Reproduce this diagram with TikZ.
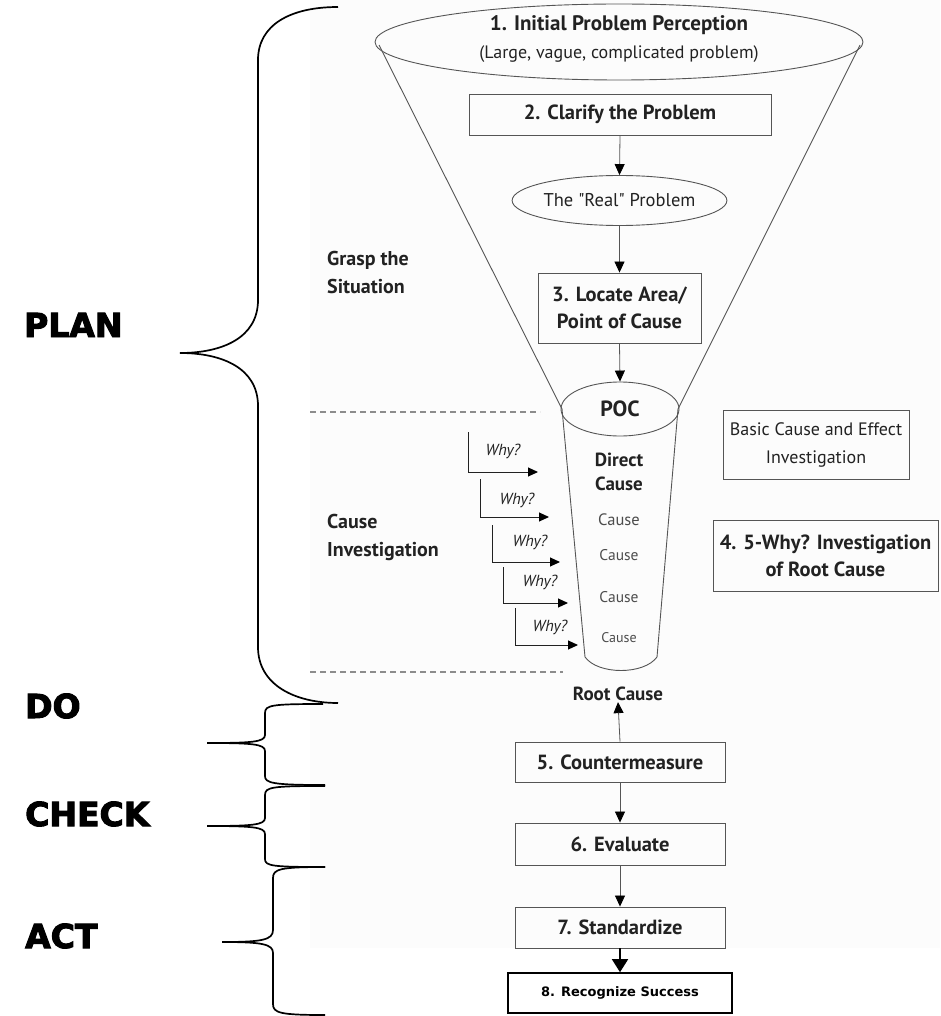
\documentclass[tikz,border=0pt]{standalone}
\usepackage{fontspec}
\setmainfont{PT Sans}[Ligatures=TeXOff]
\newfontfamily\phasefont[BoldFeatures={FakeBold=3}]{DejaVu Sans}
\newfontfamily\plainboxfont{DejaVu Sans}
\usetikzlibrary{arrows.meta,shapes.geometric}

\definecolor{ink}{HTML}{222222}
\definecolor{rule}{HTML}{555555}
\definecolor{paper}{HTML}{FCFCFC}

\tikzset{
  stepbox/.style={draw=rule, line width=0.9pt, rectangle, inner sep=2pt,
    text=ink, align=center, font=\bfseries\fontsize{20.5}{27}\selectfont},
  notebox/.style={stepbox, font=\fontsize{18}{28}\selectfont},
  oval/.style={draw=rule, line width=0.9pt, ellipse, inner sep=0pt, text=ink, align=center},
  flow/.style={draw=rule, line width=0.8pt, -{Triangle[length=11pt,width=10pt,color=black]}},
  bigflow/.style={draw=black, line width=1.6pt, -{Triangle[length=13pt,width=16pt]}},
  whyflow/.style={draw=ink, line width=1pt, -{Triangle[length=10pt,width=9pt,color=black]}},
  whytext/.style={text=ink, font=\itshape\fontsize{16}{16}\selectfont, inner sep=0pt},
  sidetext/.style={text=ink, align=left, anchor=north west, inner sep=0pt,
    font=\bfseries\fontsize{20}{28}\selectfont},
  causetext/.style={text=black!70, inner sep=0pt},
  phase/.style={anchor=west, inner sep=0pt, text height=24pt, text depth=0pt,
    font=\phasefont\bfseries\fontsize{33}{33}\selectfont},
  bracepen/.style={draw=black, line width=1.7pt},
  divider/.style={draw=black!45, line width=2pt, dash pattern=on 6pt off 4pt},
  funnelpen/.style={draw=rule, line width=0.9pt}
}

\begin{document}
\begin{tikzpicture}[x=1pt,y=-1pt]
\useasboundingbox (0,0) rectangle (940,1016);
\fill[paper] (310,0) rectangle (940,948);

% ---- braces of the PDCA phases ----
\draw[bracepen] (338,7) .. controls (290,7) and (258,25) .. (258,60) -- (258,300)
  .. controls (258,338) and (222,353) .. (180,353)
  .. controls (222,353) and (258,368) .. (258,406) -- (258,647)
  .. controls (258,685) and (295,703) .. (338,703);
\draw[bracepen] (323,704) .. controls (272,704) and (265,705) .. (265,713) -- (265,735)
  .. controls (265,742) and (252,743) .. (207,743)
  .. controls (252,743) and (265,744) .. (265,751) -- (265,776)
  .. controls (265,783) and (272,785) .. (325,785);
\draw[bracepen] (325,786) .. controls (272,786) and (265,787) .. (265,795) -- (265,818)
  .. controls (265,825) and (252,826) .. (207,826)
  .. controls (252,826) and (265,827) .. (265,834) -- (265,859)
  .. controls (265,866) and (272,867) .. (325,867);
\draw[bracepen] (325,867) .. controls (280,867) and (273,869) .. (273,878) -- (273,930)
  .. controls (273,940) and (262,942) .. (222,942)
  .. controls (262,942) and (273,944) .. (273,953) -- (273,1004)
  .. controls (273,1013) and (280,1015) .. (325,1015);

\node[phase] (plan) at (24,325) {PLAN};
\node[phase] (do) at (25,706) {DO};
\node[phase] (check) at (25,814) {CHECK};
\node[phase] (act) at (25,936) {ACT};

% ---- section labels and dividers ----
\node[sidetext] (grasp) at (327,251) {Grasp the\\Situation};
\node[sidetext] (causeinv) at (327,514) {Cause\\Investigation};
\draw[divider] (310,412) -- (540,412);
\draw[divider] (310,672) -- (563,672);

% ---- funnel ----
\draw[funnelpen] (379,45) -- (562,409);
\draw[funnelpen] (860,45) -- (678,409);
\draw[funnelpen] (562,409) -- (585,657) .. controls (598,675) and (644,675) .. (657,657) -- (678,409);

\node[oval, minimum width=488pt, minimum height=76pt] (perc) at (619,42) {};
\node[text=ink, font=\bfseries\fontsize{21}{21}\selectfont] (perct) at (619,25) {1. Initial Problem Perception};
\node[text=ink, font=\fontsize{18}{18}\selectfont] (percs) at (619,54) {(Large, vague, complicated problem)};

\node[stepbox, minimum width=302pt, minimum height=41pt] (clarify) at (620,114.5) {2. Clarify the Problem};
\node[oval, minimum width=209pt, minimum height=50pt, font=\fontsize{18.5}{18.5}\selectfont] (real) at (619.5,200.5) {The "Real" Problem};
\node[stepbox, minimum width=163pt, minimum height=70pt] (locate) at (619.5,308) {3. Locate Area/\\Point of Cause};
\node[oval, minimum width=118pt, minimum height=54pt, font=\bfseries\fontsize{22}{22}\selectfont] (poc) at (620,409) {POC};

\draw[flow] (clarify.south) -- (real.north);
\draw[flow] (real.south) -- (locate.north);
\draw[flow] (locate.south) -- (poc.north);

% ---- causes inside the cup ----
\node[text=ink, align=center, inner sep=0pt, font=\bfseries\fontsize{19}{24}\selectfont] (direct) at (619,472) {Direct\\Cause};
\node[causetext, font=\fontsize{16.5}{16.5}\selectfont] (c1) at (619,520) {Cause};
\node[causetext, font=\fontsize{15.5}{15.5}\selectfont] (c2) at (619,555) {Cause};
\node[causetext, font=\fontsize{15.5}{15.5}\selectfont] (c3) at (619,597) {Cause};
\node[causetext, font=\fontsize{14}{14}\selectfont] (c4) at (619,638) {Cause};

% ---- why arrows ----
\coordinate (w1s) at (468,432); \coordinate (w1e) at (538,472);
\coordinate (w2s) at (480,479); \coordinate (w2e) at (549,517);
\coordinate (w3s) at (492,525); \coordinate (w3e) at (560,562);
\coordinate (w4s) at (503,567); \coordinate (w4e) at (568,603);
\coordinate (w5s) at (515,608); \coordinate (w5e) at (578,645);
\draw[whyflow] (w1s) |- (w1e);
\draw[whyflow] (w2s) |- (w2e);
\draw[whyflow] (w3s) |- (w3e);
\draw[whyflow] (w4s) |- (w4e);
\draw[whyflow] (w5s) |- (w5e);
\node[whytext] (why1) at (503,451) {Why?};
\node[whytext] (why2) at (517,500) {Why?};
\node[whytext] (why3) at (530,542) {Why?};
\node[whytext] (why4) at (540,582) {Why?};
\node[whytext] (why5) at (550,627) {Why?};

% ---- side notes ----
\node[notebox, minimum width=186pt, minimum height=69pt] (basic) at (816,444.5) {Basic Cause and Effect\\Investigation};
\node[stepbox, minimum width=225pt, minimum height=71pt] (fivewhy) at (825.5,555.5) {4. 5-Why? Investigation\\of Root Cause};

% ---- countermeasure chain ----
\node[text=ink, inner sep=1pt, font=\bfseries\fontsize{19}{19}\selectfont] (root) at (618,694) {Root Cause};
\node[stepbox, minimum width=210pt, minimum height=40pt] (counter) at (620,762) {5. Countermeasure};
\node[stepbox, minimum width=210pt, minimum height=42pt] (evaluate) at (620,844) {6. Evaluate};
\node[stepbox, minimum width=210pt, minimum height=41pt] (standard) at (620,927.5) {7. Standardize};
\node[draw=black, line width=1.6pt, minimum width=224pt, minimum height=40pt,
  font=\plainboxfont\bfseries\fontsize{13}{13}\selectfont] (success) at (620,993) {8. Recognize Success};

\draw[flow] (counter.north) -- (root.south);
\draw[flow] (counter.south) -- (evaluate.north);
\draw[flow] (evaluate.south) -- (standard.north);
\draw[bigflow] (standard.south) -- (success.north);
\end{tikzpicture}
\end{document}
